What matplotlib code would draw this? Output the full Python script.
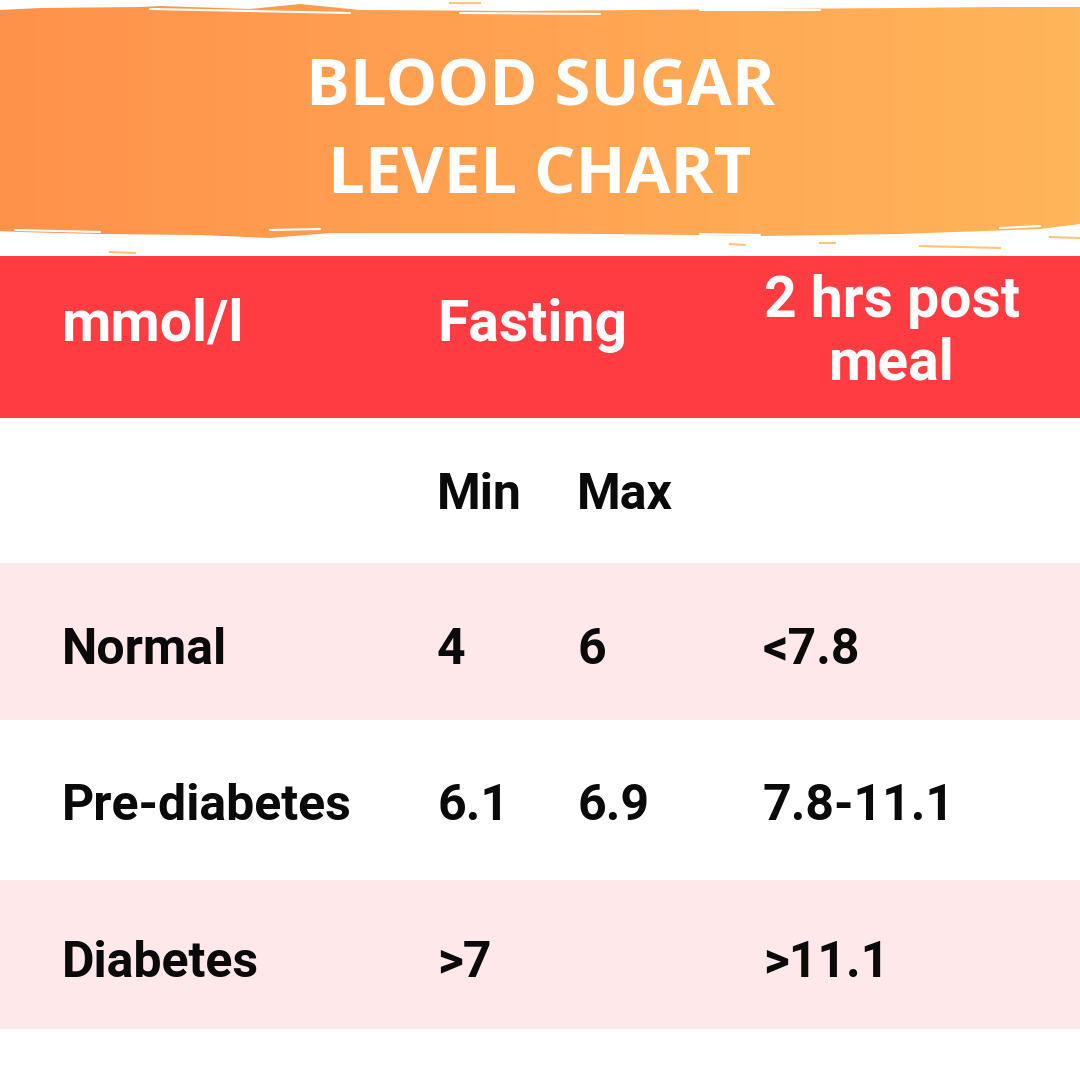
import numpy as np
import matplotlib
matplotlib.use("Agg")
from matplotlib import pyplot as plt
from matplotlib.patches import Polygon, Rectangle
from matplotlib.colors import LinearSegmentedColormap

# table content
title_lines = ["BLOOD SUGAR", "LEVEL CHART"]
head_cols = ["mmol/l", "Fasting", "2 hrs post\nmeal"]
sub_cols = ["Min", "Max"]
levels = ["Normal", "Pre-diabetes", "Diabetes"]
fasting_min = ["4", "6.1", ">7"]
fasting_max = ["6", "6.9", ""]
post_meal = ["<7.8", "7.8-11.1", ">11.1"]

RED = "#ff3c42"
PINK = "#ffe8e9"
ORANGE_L = "#ff924b"
ORANGE_R = "#ffb55a"

fig = plt.figure(figsize=(10.8, 10.8), dpi=100)
ax = fig.add_axes([0, 0, 1, 1])
ax.set_xlim(0, 1080)
ax.set_ylim(1080, 0)
ax.axis("off")

# brush banner
top_x = [0, 40, 140, 160, 250, 300, 360, 520, 640, 760, 900, 1000, 1080]
top_y = [10, 8, 7, 6, 9, 4, 10, 11, 10, 9, 8, 7, 7]
bot_x = [1080, 1040, 900, 760, 700, 600, 500, 330, 270, 200, 100, 20, 0]
bot_y = [224, 229, 234, 236, 235, 234, 233, 233, 238, 235, 234, 232, 231]
shape = list(zip(top_x, top_y)) + list(zip(bot_x, bot_y))
banner = Polygon(shape, closed=True, facecolor="none", edgecolor="none")
ax.add_patch(banner)
cmap = LinearSegmentedColormap.from_list("brush", [ORANGE_L, ORANGE_R])
grad = np.linspace(0, 1, 256).reshape(1, -1)
im = ax.imshow(grad, extent=[0, 1080, 245, 0], aspect="auto", cmap=cmap, zorder=1)
im.set_clip_path(banner)
ax.set_ylim(1080, 0)
ax.set_xlim(0, 1080)

# rough white streaks on the brush edges
streaks = [((150, 9), (350, 13)), ((460, 13), (600, 14)), ((700, 10), (820, 10)),
           ((15, 230), (100, 232)), ((270, 230), (320, 229)), ((700, 234), (760, 235)),
           ((1000, 228), (1040, 226))]
for (x0, y0), (x1, y1) in streaks:
    ax.plot([x0, x1], [y0, y1], color="white", lw=1.5, solid_capstyle="round", zorder=2)
flecks = [((110, 252), (135, 253)), ((730, 244), (745, 245)), ((920, 246), (1000, 248)),
          ((820, 243), (835, 243)), ((1050, 237), (1080, 238)), ((450, 3), (480, 3))]
for (x0, y0), (x1, y1) in flecks:
    ax.plot([x0, x1], [y0, y1], color=ORANGE_R, lw=1.5, alpha=0.8, zorder=2)

for i, line in enumerate(title_lines):
    ax.text(540, 106 + i * 87, line, ha="center", va="baseline", color="white",
            fontsize=47, fontweight="bold", family="Open Sans", zorder=3)

# row bands
ax.add_patch(Rectangle((0, 256), 1080, 162, facecolor=RED, edgecolor="none", zorder=1))
band_tops = [563, 880]
band_bots = [720, 1029]
for t, b in zip(band_tops, band_bots):
    ax.add_patch(Rectangle((0, t), 1080, b - t, facecolor=PINK, edgecolor="none", zorder=1))

col_x = [62, 437, 577, 763]
head_font = dict(family="Roboto", fontweight="bold", fontsize=41, color="white", zorder=3)
ax.text(col_x[0], 341, head_cols[0], ha="left", va="baseline", **head_font)
ax.text(col_x[1], 341, head_cols[1], ha="left", va="baseline", **head_font)
for j, part in enumerate(head_cols[2].split("\n")):
    ax.text(892, 317 + j * 62, part, ha="center", va="baseline", **head_font)

body_font = dict(family="Roboto", fontweight="bold", fontsize=36, color="#0a0a0a", zorder=3)
ax.text(col_x[1], 509, sub_cols[0], ha="left", va="baseline", **body_font)
ax.text(col_x[2], 509, sub_cols[1], ha="left", va="baseline", **body_font)

row_base = [664, 820, 977]
for k in range(len(levels)):
    y = row_base[k]
    ax.text(col_x[0], y, levels[k], ha="left", va="baseline", **body_font)
    ax.text(col_x[1], y, fasting_min[k], ha="left", va="baseline", **body_font)
    ax.text(col_x[2], y, fasting_max[k], ha="left", va="baseline", **body_font)
    ax.text(col_x[3], y, post_meal[k], ha="left", va="baseline", **body_font)

fig.savefig("out.png", dpi=100, facecolor="white")
